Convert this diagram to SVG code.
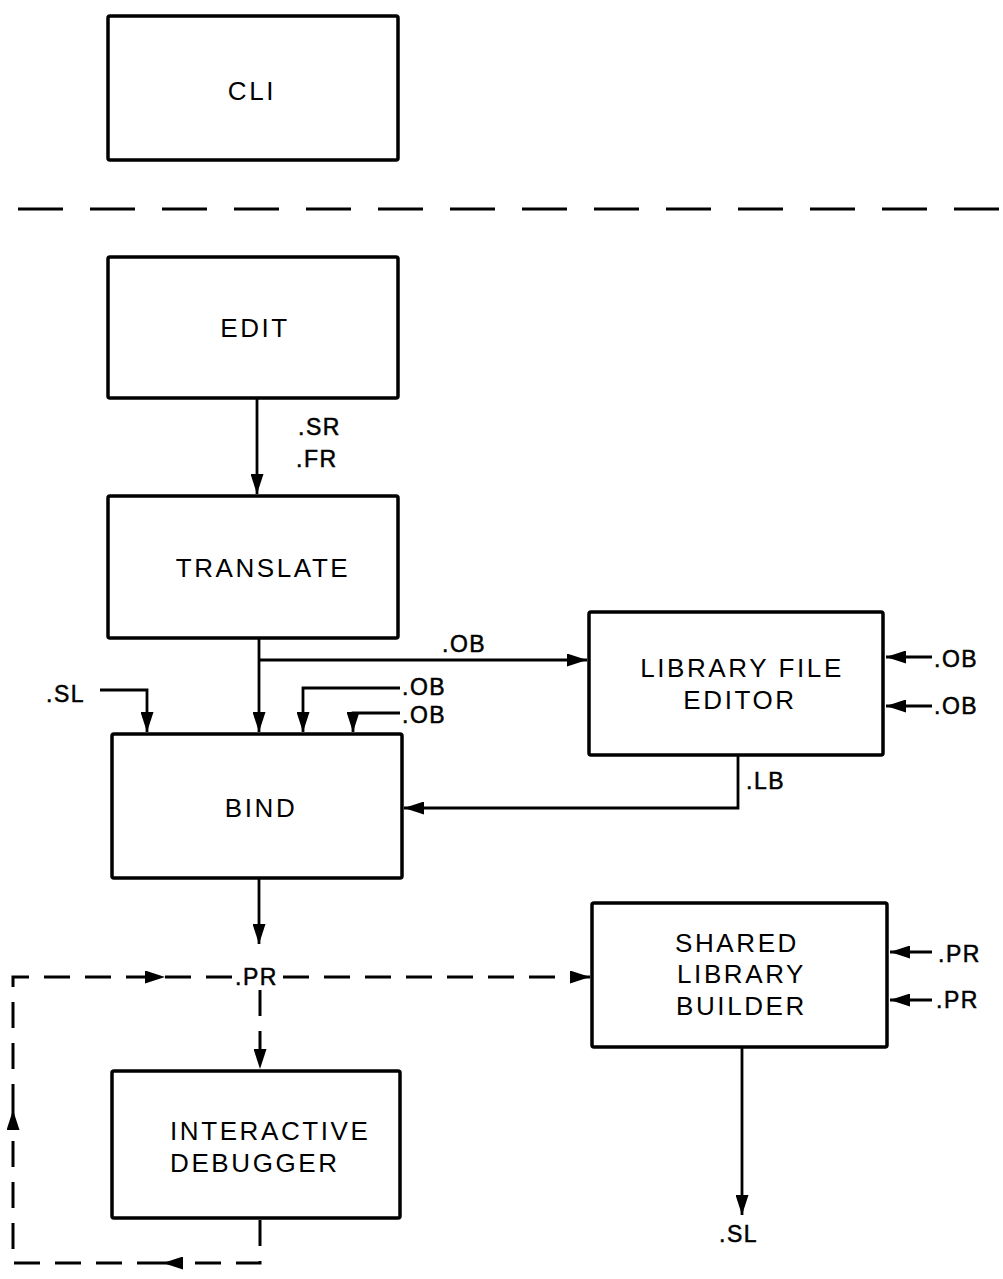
<svg xmlns="http://www.w3.org/2000/svg" width="1003" height="1279" viewBox="0 0 1003 1279">
<style>
.box{fill:#fff;stroke:#000;stroke-width:3.5}
.t{font-family:"Liberation Sans",Arial,sans-serif;font-size:26px;letter-spacing:2.6px;fill:#000}
.lb{font-family:"Liberation Sans",Arial,sans-serif;font-size:23px;letter-spacing:1.5px;fill:#000;stroke:#000;stroke-width:0.5}
.c{fill:none;stroke:#000;stroke-width:2.8}
.d{fill:none;stroke:#000;stroke-width:3;stroke-dasharray:26 15}
.sep{fill:none;stroke:#000;stroke-width:3;stroke-dasharray:45 27}
</style>
<defs>
<marker id="ah" markerUnits="userSpaceOnUse" markerWidth="20" markerHeight="13" refX="20" refY="6.5" orient="auto">
<path d="M0,0 L20,6.5 L0,13 Z" fill="#000" stroke="none"/>
</marker>
</defs>
<rect width="1003" height="1279" fill="#fff"/>
<line class="sep" x1="18" y1="209" x2="1003" y2="209"/>
<g id="connectors">
<path class="c" d="M257,398 V494" marker-end="url(#ah)"/>
<path class="c" d="M259,638 V732" marker-end="url(#ah)"/>
<path class="c" d="M259,660 H587" marker-end="url(#ah)"/>
<path class="c" d="M100,690 H147 V732" marker-end="url(#ah)"/>
<path class="c" d="M400,688 H303 V732" marker-end="url(#ah)"/>
<path class="c" d="M400,713 H353 V732" marker-end="url(#ah)"/>
<path class="c" d="M738,755 V808 H404" marker-end="url(#ah)"/>
<path class="c" d="M932,657 H886" marker-end="url(#ah)"/>
<path class="c" d="M932,706 H886" marker-end="url(#ah)"/>
<path class="c" d="M259,878 V944" marker-end="url(#ah)"/>
<path class="c" d="M932,952 H890" marker-end="url(#ah)"/>
<path class="c" d="M932,1000 H890" marker-end="url(#ah)"/>
<path class="c" d="M742,1047 V1215" marker-end="url(#ah)"/>
<path class="d" d="M260,1220 V1263 H163" marker-end="url(#ah)"/>
<path class="d" d="M163,1263 H13 V1110" marker-end="url(#ah)"/>
<path class="d" d="M13,1110 V977 H165" marker-end="url(#ah)"/>
<path class="d" d="M165,977 H233"/>
<path class="d" d="M283,977 H590" marker-end="url(#ah)"/>
<path class="d" d="M260,990 V1069" marker-end="url(#ah)"/>
<text class="lb" x="298" y="435">.SR</text>
<text class="lb" x="296" y="467">.FR</text>
<text class="lb" x="442" y="652">.OB</text>
<text class="lb" x="46" y="702">.SL</text>
<text class="lb" x="402" y="695">.OB</text>
<text class="lb" x="402" y="723">.OB</text>
<text class="lb" x="934" y="667">.OB</text>
<text class="lb" x="934" y="714">.OB</text>
<text class="lb" x="746" y="789">.LB</text>
<text class="lb" x="235" y="985">.PR</text>
<text class="lb" x="938" y="962">.PR</text>
<text class="lb" x="936" y="1008">.PR</text>
<text class="lb" x="719" y="1242">.SL</text>
</g>
<g id="cli">
<rect class="box" x="108" y="16" width="290" height="144" rx="2"/>
<text class="t" x="252" y="100" text-anchor="middle">CLI</text>
</g>
<g id="edit">
<rect class="box" x="108" y="257" width="290" height="141" rx="2"/>
<text class="t" x="255" y="337" text-anchor="middle">EDIT</text>
</g>
<g id="translate">
<rect class="box" x="108" y="496" width="290" height="142" rx="2"/>
<text class="t" x="263" y="577" text-anchor="middle">TRANSLATE</text>
</g>
<g id="library-file-editor">
<rect class="box" x="589" y="612" width="294" height="143" rx="2"/>
<text class="t" x="742" y="677" text-anchor="middle">LIBRARY FILE</text>
<text class="t" x="740" y="709" text-anchor="middle">EDITOR</text>
</g>
<g id="bind">
<rect class="box" x="112" y="734" width="290" height="144" rx="2"/>
<text class="t" x="261" y="817" text-anchor="middle">BIND</text>
</g>
<g id="shared-library-builder">
<rect class="box" x="592" y="903" width="295" height="144" rx="2"/>
<text class="t" x="675" y="952">SHARED</text>
<text class="t" x="677" y="983">LIBRARY</text>
<text class="t" x="676" y="1015">BUILDER</text>
</g>
<g id="interactive-debugger">
<rect class="box" x="112" y="1071" width="288" height="147" rx="2"/>
<text class="t" x="170" y="1140">INTERACTIVE</text>
<text class="t" x="170" y="1172">DEBUGGER</text>
</g>
</svg>
